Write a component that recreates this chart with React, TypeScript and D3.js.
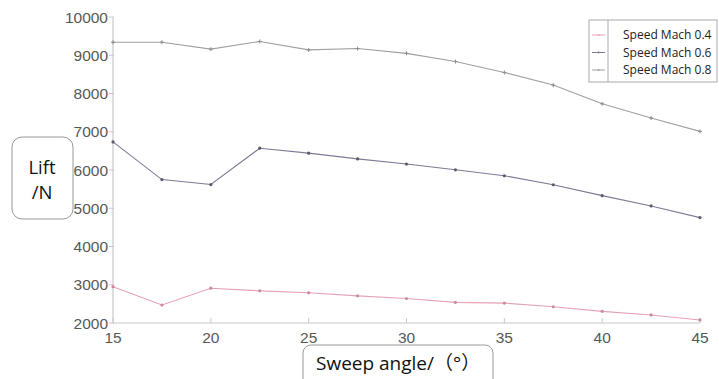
import React from "react";
import * as d3 from "d3";

// sweep angle (deg)
const angles = [15, 17.5, 20, 22.5, 25, 27.5, 30, 32.5, 35, 37.5, 40, 42.5, 45];

// lift (N) per speed
const mach04 = [2950, 2470, 2910, 2840, 2790, 2710, 2640, 2540, 2520, 2425, 2305, 2210, 2080];
const mach06 = [6735, 5750, 5620, 6570, 6440, 6290, 6155, 6005, 5850, 5615, 5330, 5060, 4755];
const mach08 = [9340, 9340, 9160, 9360, 9140, 9175, 9050, 8835, 8550, 8220, 7730, 7360, 7010];

const seriesNames = ["Speed Mach 0.4", "Speed Mach 0.6", "Speed Mach 0.8"];
const seriesColors = ["#e6a3b4", "#7b7c94", "#a0a0a4"];

const yTicks = [2000, 3000, 4000, 5000, 6000, 7000, 8000, 9000, 10000];
const xTicks = [15, 20, 25, 30, 35, 40, 45];

export default function App() {
  const W = 719;
  const H = 379;
  const x = d3.scaleLinear().domain([15, 45]).range([113, 700]);
  const y = d3.scaleLinear().domain([2000, 10000]).range([323, 17]);

  const series = [mach04, mach06, mach08];
  const line = d3
    .line<number>()
    .x((_, i) => x(angles[i]))
    .y((d) => y(d));

  const axisColor = "#c8c8cc";
  const tickFont = "'Liberation Sans', Arial, sans-serif";

  return (
    <svg
      width={W}
      height={H}
      style={{ position: "absolute", left: 0, top: 0, background: "#fff" }}
    >
      {/* axes */}
      <line x1={x(15)} x2={x(15)} y1={y(10000)} y2={y(2000)} stroke={axisColor} strokeWidth={1.2} />
      <line x1={x(15)} x2={x(45)} y1={y(2000)} y2={y(2000)} stroke={axisColor} strokeWidth={1.2} />

      {yTicks.map((t) => (
        <g key={"y" + t}>
          <line x1={x(15) - 4} x2={x(15) + 1} y1={y(t)} y2={y(t)} stroke={axisColor} />
          <text
            x={x(15) - 5}
            y={y(t)}
            dy="0.36em"
            textAnchor="end"
            fontFamily={tickFont}
            fontSize={15.5}
            fill="#585858"
          >
            {t}
          </text>
        </g>
      ))}

      {xTicks.map((t) => (
        <g key={"x" + t}>
          <line x1={x(t)} x2={x(t)} y1={y(2000)} y2={y(2000) - 5} stroke={axisColor} />
          <text
            x={x(t)}
            y={y(2000) + 20}
            textAnchor="middle"
            fontFamily={tickFont}
            fontSize={15.5}
            fill="#585858"
          >
            {t}
          </text>
        </g>
      ))}

      {/* lines */}
      {series.map((s, si) => (
        <g key={"s" + si}>
          <path d={line(s) || ""} fill="none" stroke={seriesColors[si]} strokeWidth={1.1} />
          {s.map((v, i) =>
            si === 2 ? (
              <g key={i} stroke="#8c8c90" strokeWidth={1}>
                <line x1={x(angles[i]) - 2} x2={x(angles[i]) + 2} y1={y(v)} y2={y(v)} />
                <line x1={x(angles[i])} x2={x(angles[i])} y1={y(v) - 2} y2={y(v) + 2} />
              </g>
            ) : (
              <circle key={i} cx={x(angles[i])} cy={y(v)} r={1.6} fill={si === 0 ? "#c98a9c" : "#5a5b6c"} />
            )
          )}
        </g>
      ))}

      {/* legend */}
      <rect x={589} y={20} width={128} height={62} fill="#fff" stroke="#aaa" strokeWidth={1} />
      <line x1={608} x2={608} y1={20} y2={82} stroke="#aaa" />
      {seriesNames.map((name, i) => (
        <g key={name}>
          <line x1={592} x2={605} y1={35 + i * 17.5} y2={35 + i * 17.5} stroke={seriesColors[i]} strokeWidth={1} />
          <circle cx={598.5} cy={35 + i * 17.5} r={1} fill={seriesColors[i]} />
          <text
            x={623}
            y={35 + i * 17.5}
            dy="0.35em"
            fontFamily="'Open Sans', sans-serif"
            fontSize={12}
            fill="#222"
          >
            {name}
          </text>
        </g>
      ))}

      {/* y label box */}
      <rect x={12} y={137} width={61} height={82} rx={10} fill="#fff" stroke="#999" strokeWidth={1} />
      <text x={42} y={174} textAnchor="middle" fontFamily="'Open Sans', sans-serif" fontSize={18.5} fill="#111">
        Lift
      </text>
      <text x={42} y={199} textAnchor="middle" fontFamily="'Open Sans', sans-serif" fontSize={18.5} fill="#111">
        /N
      </text>

      {/* x label box */}
      <rect x={303} y={345} width={190} height={50} rx={8} fill="#fff" stroke="#999" strokeWidth={1} />
      <text
        x={316}
        y={370}
        fontFamily="'Open Sans', 'Noto Sans CJK SC', sans-serif"
        fontSize={19}
        fill="#111"
      >
        Sweep angle/（°）
      </text>
    </svg>
  );
}
